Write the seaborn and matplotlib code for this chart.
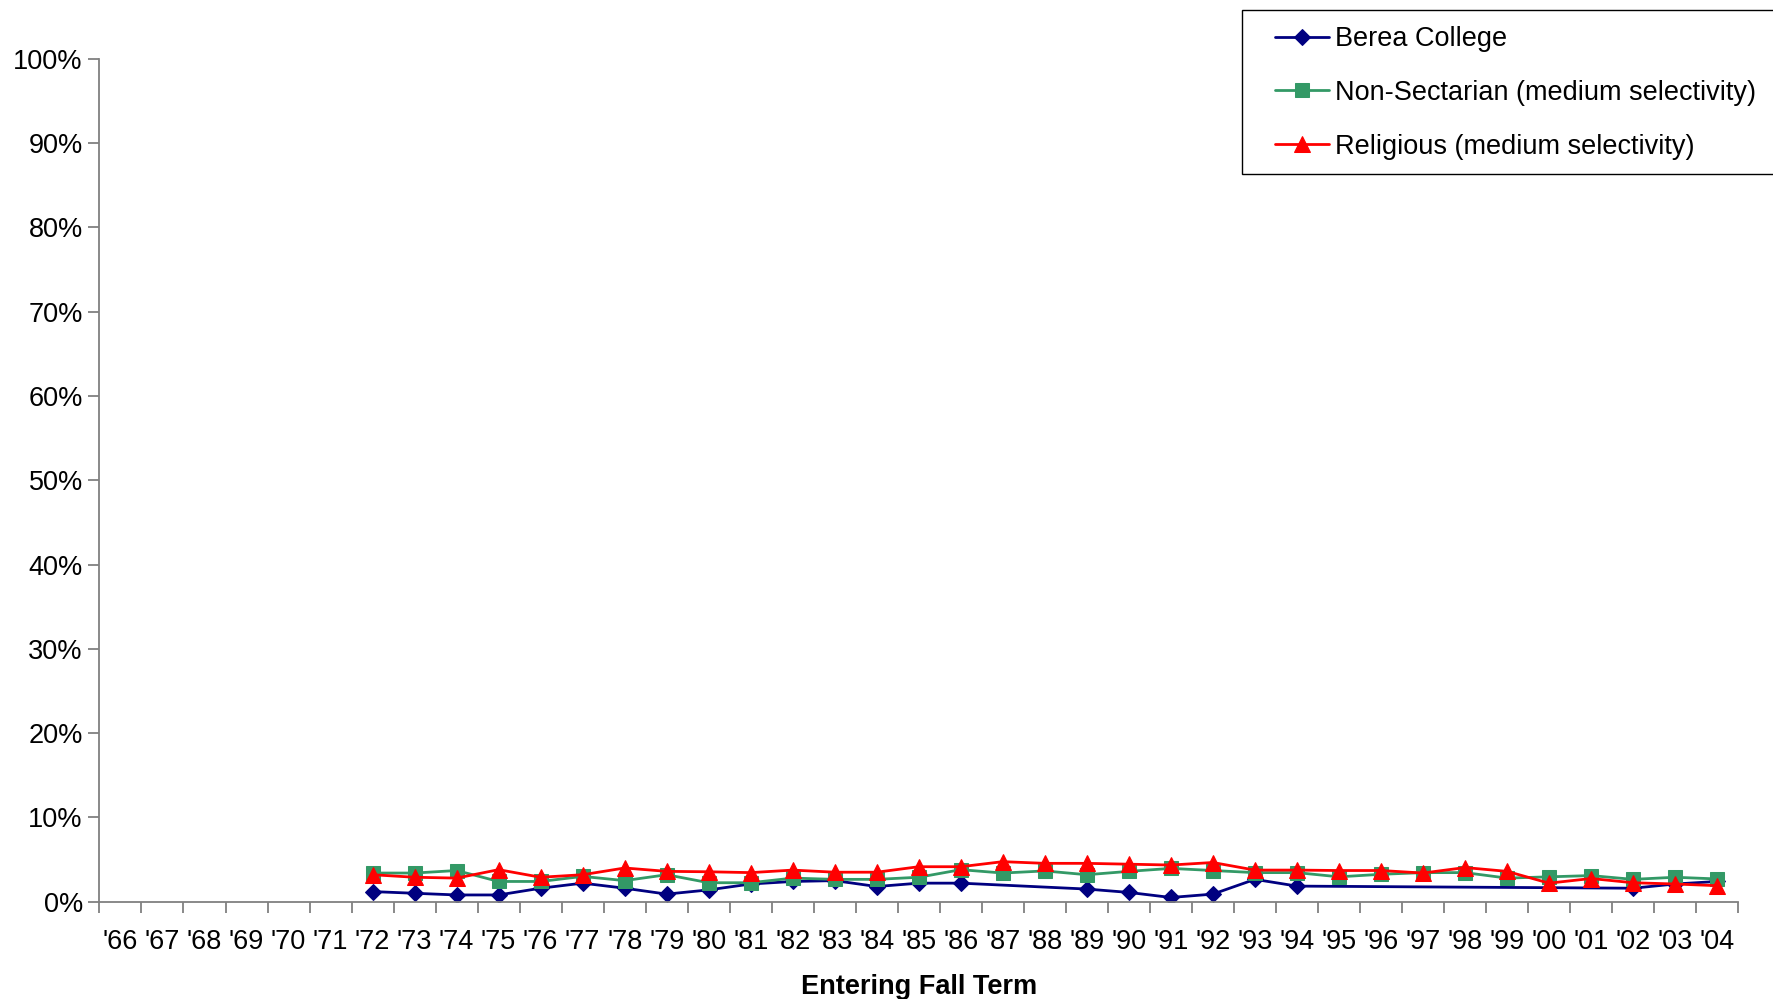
import numpy as np
import pandas as pd
import matplotlib
matplotlib.use("Agg")
import matplotlib.pyplot as plt
import seaborn as sns
from matplotlib.patches import Rectangle
from matplotlib.ticker import FixedLocator, FuncFormatter

years = ["'66", "'67", "'68", "'69", "'70", "'71", "'72", "'73", "'74", "'75",
         "'76", "'77", "'78", "'79", "'80", "'81", "'82", "'83", "'84", "'85",
         "'86", "'87", "'88", "'89", "'90", "'91", "'92", "'93", "'94", "'95",
         "'96", "'97", "'98", "'99", "'00", "'01", "'02", "'03", "'04"]

nan = np.nan
# percent values, '66 .. '04
berea = [nan, nan, nan, nan, nan, nan, 1.2, 1.0, 0.8, 0.8,
         1.6, 2.2, 1.6, 0.9, 1.4, 2.1, 2.4, 2.5, 1.8, 2.2,
         2.2, nan, nan, 1.5, 1.1, 0.5, 0.9, 2.65, 1.85, nan,
         nan, nan, nan, nan, nan, nan, 1.6, 2.1, 2.4]
non_sectarian = [nan, nan, nan, nan, nan, nan, 3.4, 3.4, 3.7, 2.4,
                 2.4, 3.0, 2.5, 3.2, 2.25, 2.25, 2.8, 2.65, 2.65, 2.9,
                 3.8, 3.4, 3.65, 3.2, 3.6, 3.95, 3.7, 3.45, 3.45, 2.95,
                 3.25, 3.45, 3.45, 2.8, 2.95, 3.1, 2.65, 2.9, 2.7]
religious = [nan, nan, nan, nan, nan, nan, 3.2, 2.9, 2.8, 3.8,
             2.9, 3.2, 4.0, 3.6, 3.55, 3.45, 3.75, 3.5, 3.5, 4.15,
             4.15, 4.75, 4.55, 4.55, 4.45, 4.35, 4.65, 3.75, 3.75, 3.7,
             3.7, 3.4, 4.05, 3.6, 2.2, 2.75, 2.25, 2.1, 1.9]

series = [
    ("Berea College", berea, "#000080", "D", 8.5),
    ("Non-Sectarian (medium selectivity)", non_sectarian, "#339966", "s", 10),
    ("Religious (medium selectivity)", religious, "#FF0000", "^", 11),
]

sns.set_style("white")
plt.rcParams["font.family"] = ["Liberation Sans", "DejaVu Sans"]
plt.rcParams["text.color"] = "black"
plt.rcParams["xtick.labelcolor"] = "black"
plt.rcParams["ytick.labelcolor"] = "black"
plt.rcParams["axes.labelcolor"] = "black"
FS = 19.5

fig = plt.figure(figsize=(17.73, 9.99), dpi=100)
ax = fig.add_axes([0.0561, 0.0974, 0.9242, 0.8437])

for name, vals, color, marker, ms in series:
    df = pd.DataFrame({"x": np.arange(len(years)), "y": vals}).dropna()
    sns.lineplot(data=df, x="x", y="y", ax=ax, color=color, marker=marker,
                 markersize=ms, markeredgecolor=color, linewidth=2,
                 label=name, sort=True, estimator=None)

ax.set_xlim(-0.5, len(years) - 0.5)
ax.set_ylim(0, 100)
ax.set_yticks(range(0, 101, 10))
ax.yaxis.set_major_formatter(FuncFormatter(lambda v, p: f"{int(v)}%"))
ax.set_xticks(np.arange(len(years)))
ax.set_xticklabels(years)
ax.xaxis.set_minor_locator(FixedLocator(np.arange(-0.5, len(years), 1.0)))
ax.tick_params(axis="x", which="major", length=0, labelsize=FS, pad=20,
               labelcolor="black")
ax.tick_params(axis="x", which="minor", length=8, width=1.3, color="#808080",
               direction="out", bottom=True)
ax.tick_params(axis="y", length=8, width=1.3, color="#808080", direction="out",
               labelsize=FS, left=True, pad=4, labelcolor="black")

for s in ["top", "right"]:
    ax.spines[s].set_visible(False)
for s in ["left", "bottom"]:
    ax.spines[s].set_color("#808080")
    ax.spines[s].set_linewidth(1.3)

ax.set_ylabel("")
ax.set_xlabel("Entering Fall Term", fontsize=FS, fontweight="bold", color="black")
ax.xaxis.set_label_coords(0.5, -0.086)

# legend box runs off the right edge of the figure
fig.patches.append(Rectangle((1242 / 1773, 1 - 174 / 999), 0.4, 164 / 999,
                             transform=fig.transFigure, facecolor="white",
                             edgecolor="black", linewidth=1.0, zorder=5))
handles, labels = ax.get_legend_handles_labels()
ax.get_legend().remove()
leg = fig.legend(handles, labels, loc="upper left",
                 bbox_to_anchor=(1275 / 1773, 1 - 26 / 999),
                 bbox_transform=fig.transFigure, fontsize=FS, frameon=False,
                 handlelength=2.0, handletextpad=0.2, labelspacing=1.03,
                 borderpad=0, numpoints=1, borderaxespad=0, labelcolor="black")
leg.set_zorder(6)

fig.savefig("out.png", dpi=100)
